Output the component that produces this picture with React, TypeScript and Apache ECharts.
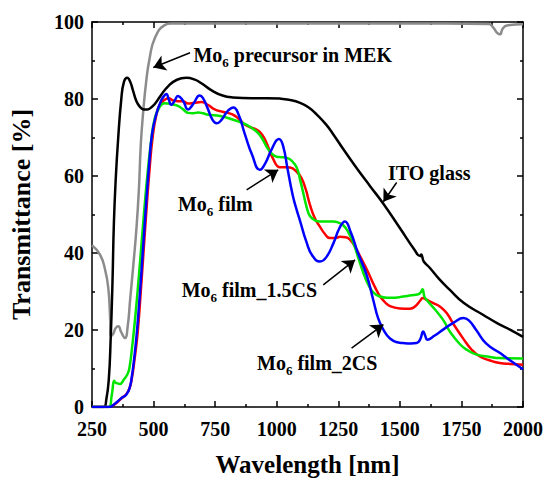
import React, { useEffect, useRef } from "react";
import * as echarts from "echarts";

const FONT = "'Liberation Serif', 'Times New Roman', serif";

// Wavelength [nm], Transmittance [%]
const precursorData: [number, number][] = [
  [250, 42], [283, 39.5], [303, 35.7], [316, 31], [323, 24], [327, 18.5], [336, 19], [346, 20.5],
  [357, 21], [368, 19.5], [384, 17.9], [395, 21], [405, 28], [418, 37], [430, 46], [440, 56],
  [448, 68], [457, 76], [470, 84.5], [484, 90.6], [505, 95.8], [545, 99.2], [572, 99.6],
  [1000, 99.6], [1500, 99.6], [1860, 99.5], [1880, 98.5], [1895, 97.2], [1906, 96.8],
  [1918, 98.3], [1935, 99.1], [2000, 99.4],
];

const itoData: [number, number][] = [
  [250, 0], [298, 0], [308, 1.9], [318, 7], [326, 18], [333, 32], [339, 48], [347, 60], [356, 69.5],
  [369, 80], [380, 84.5], [393, 85.5], [405, 84.5], [416, 82.3], [430, 79.5], [443, 78.1],
  [460, 77.3], [475, 77.3], [490, 77.8], [505, 78.7], [530, 81], [559, 83.3], [595, 85],
  [633, 85.5], [665, 85.1], [694, 84.1], [734, 82.3], [780, 80.9], [822, 80.4], [900, 80.2],
  [960, 80.2], [1013, 80.1], [1050, 79.8], [1095, 79.0], [1130, 77.8], [1162, 76.0],
  [1200, 73.4], [1230, 70.8], [1270, 67], [1325, 62], [1380, 57.3], [1433, 52.8],
  [1500, 46.5], [1560, 40.8], [1582, 39.2], [1587, 39.6], [1591, 39.0], [1597, 37.8],
  [1622, 36.1], [1660, 33.2], [1703, 30.4], [1760, 27], [1839, 23.9], [1900, 21.6],
  [1947, 20.1], [2000, 18.2],
];

const filmData: [number, number][] = [
  [250, 0], [318, 0], [340, 0.6], [369, 2.2], [389, 3.3], [402, 4.8], [412, 7.5], [422, 12],
  [435, 19], [447, 29], [460, 41], [472, 52], [484, 62], [496, 70], [510, 75.5], [525, 78.5],
  [545, 79.8], [560, 80.2], [580, 79.6], [600, 79.4], [620, 79.4], [640, 78.8], [665, 79],
  [694, 79.2], [720, 78.5], [748, 77.3], [780, 76.7], [820, 76], [850, 74.6], [870, 73.4],
  [895, 72.6], [919, 72], [940, 70.8], [959, 68.5], [986, 64.4], [1013, 62.3], [1035, 62.3],
  [1054, 62.2], [1081, 61.1], [1100, 59.5], [1118, 56.5], [1135, 52.5], [1155, 49],
  [1176, 46.8], [1195, 45], [1216, 43.9], [1240, 43.9], [1257, 44.2], [1280, 44.1],
  [1298, 43.4], [1320, 41.4], [1338, 39.2], [1360, 36.5], [1379, 33.9], [1400, 31],
  [1420, 28.7], [1440, 27.2], [1460, 26.2], [1500, 25.6], [1541, 25.5], [1565, 26.3],
  [1582, 27.6], [1593, 28.3], [1610, 27.8], [1636, 27], [1665, 26], [1690, 24.4],
  [1720, 21.3], [1758, 17.7], [1790, 15], [1825, 13.1], [1860, 12.2], [1906, 11.4],
  [1950, 11.2], [2000, 11],
];

const film15Data: [number, number][] = [
  [250, 0], [318, 0], [330, 3], [340, 6.8], [344, 6.4], [350, 6.2], [363, 6], [380, 7.2],
  [396, 8.8], [404, 11], [412, 15], [422, 21], [435, 30], [448, 40], [462, 51], [476, 61],
  [490, 69], [505, 75], [525, 78], [545, 78.9], [570, 78.7], [599, 78.2], [620, 77.3],
  [640, 76.4], [660, 76.3], [681, 76.5], [700, 76.3], [722, 75.9], [770, 75.6], [824, 74.6],
  [878, 73.3], [919, 71.5], [940, 69.8], [959, 67.6], [980, 65.8], [1000, 65], [1020, 64.9],
  [1040, 64.7], [1060, 64], [1081, 62.2], [1095, 59], [1108, 55.5], [1122, 51.8],
  [1135, 49.6], [1155, 48.5], [1176, 48.2], [1200, 48.2], [1230, 48.2], [1250, 47.9],
  [1270, 47.2], [1290, 45.5], [1311, 42.6], [1330, 39], [1352, 34.8], [1370, 32],
  [1392, 29.8], [1420, 28.7], [1447, 28.4], [1480, 28.4], [1514, 28.7], [1545, 29],
  [1575, 29.3], [1585, 29.8], [1592, 30.6], [1600, 28.6], [1609, 27.8], [1640, 25.5],
  [1677, 22.5], [1703, 19.6], [1744, 16.3], [1771, 14.9], [1812, 13.6], [1866, 13],
  [1906, 12.7], [2000, 12.6],
];

const film2Data: [number, number][] = [
  [250, 0], [320, 0], [345, 1], [369, 2.3], [389, 3.2], [403, 5], [412, 8], [422, 13],
  [433, 20], [445, 30], [457, 41], [470, 53], [482, 63], [494, 71], [511, 76], [530, 79.5],
  [545, 81], [552, 81.3], [562, 79.8], [572, 78.5], [585, 79.5], [599, 80.8], [620, 79.5],
  [640, 77.3], [662, 78.8], [687, 80.9], [700, 80.3], [720, 77.5], [740, 74.5], [756, 73.7],
  [775, 74.5], [800, 76.8], [824, 77.8], [845, 76], [870, 71], [900, 65.5], [932, 61.6],
  [955, 63.5], [980, 67], [1009, 69.6], [1025, 68], [1045, 61.5], [1065, 55], [1081, 51.2],
  [1095, 48.3], [1120, 43], [1145, 39.3], [1176, 37.8], [1200, 38.8], [1230, 42.5],
  [1255, 46.5], [1277, 48.2], [1300, 45.5], [1330, 40], [1365, 34.3], [1392, 27.8],
  [1412, 23], [1433, 20.1], [1460, 17.8], [1490, 16.8], [1514, 16.6], [1545, 16.5],
  [1568, 16.6], [1582, 17.5], [1595, 19.6], [1603, 18.5], [1611, 17.5], [1640, 18.5],
  [1680, 20.3], [1720, 22], [1758, 23.1], [1780, 22.5], [1810, 20], [1850, 16.5],
  [1907, 14], [1950, 12], [2000, 9.8],
];

// Annotation labels: [main, subscript, rest], anchor (left-middle) in data coords
const labelTexts = [
  ["Mo", "6", " precursor in MEK"],
  ["ITO glass", "", ""],
  ["Mo", "6", " film"],
  ["Mo", "6", " film_1.5CS"],
  ["Mo", "6", " film_2CS"],
];
const labelAnchors: [number, number][] = [
  [662, 91.4],
  [1452, 60.8],
  [599, 52.8],
  [614, 30.3],
  [920, 11.3],
];
// Arrows: from -> to (tip) in data coords
const arrowLines: [[number, number], [number, number]][] = [
  [[648, 92.0], [499, 88.2]],
  [[1487, 58.3], [1433, 53.3]],
  [[878, 56.4], [1006, 61.6]],
  [[1189, 31.7], [1318, 38.2]],
  [[1304, 15.3], [1433, 21.4]],
];

const seriesColors = ["#8c8c8c", "#000000", "#ff0000", "#00e600", "#0000ff"];

export default function App() {
  const ref = useRef<HTMLDivElement>(null);

  useEffect(() => {
    document.body.style.margin = "0";
    if (!ref.current) return;
    const chart = echarts.init(ref.current, undefined, { renderer: "svg" });

    const axisCommon = {
      axisLine: { show: true, onZero: false, lineStyle: { color: "#000", width: 1.5 } },
      axisTick: { show: true, inside: true, length: 6, lineStyle: { color: "#000", width: 1.5 } },
      minorTick: { show: true, splitNumber: 2, length: 3, lineStyle: { color: "#000", width: 1.5 } },
      splitLine: { show: false },
    };

    const mkSeries = (name: string, data: [number, number][], color: string) => ({
      name,
      type: "line",
      data,
      showSymbol: false,
      symbol: "none",
      smooth: 0.5,
      lineStyle: { color, width: 2.5 },
      silent: true,
      z: 3,
    });

    const labelStyle = {
      color: "#000",
      fontFamily: FONT,
      fontWeight: "bold",
      fontSize: 20,
      formatter: (v: number) => String(v),
    };

    const option: any = {
      animation: false,
      backgroundColor: "#fff",
      grid: { left: 92, right: 23, top: 22, bottom: 77, containLabel: false },
      xAxis: [
        {
          type: "value",
          min: 250,
          max: 2000,
          interval: 250,
          position: "bottom",
          ...axisCommon,
          axisLabel: { ...labelStyle, margin: 12 },
          name: "Wavelength [nm]",
          nameLocation: "middle",
          nameGap: 45,
          nameTextStyle: { color: "#000", fontFamily: FONT, fontWeight: "bold", fontSize: 25 },
        },
        {
          type: "value",
          min: 250,
          max: 2000,
          interval: 250,
          position: "top",
          ...axisCommon,
          axisLabel: { show: false },
        },
      ],
      yAxis: [
        {
          type: "value",
          min: 0,
          max: 100,
          interval: 20,
          position: "left",
          ...axisCommon,
          axisLabel: { ...labelStyle, margin: 8 },
          name: "Transmittance [%]",
          nameLocation: "middle",
          nameGap: 58,
          nameTextStyle: { color: "#000", fontFamily: FONT, fontWeight: "bold", fontSize: 26 },
        },
        {
          type: "value",
          min: 0,
          max: 100,
          interval: 20,
          position: "right",
          ...axisCommon,
          axisLabel: { show: false },
        },
      ],
      series: [
        mkSeries("Mo6 precursor in MEK", precursorData, seriesColors[0]),
        mkSeries("ITO glass", itoData, seriesColors[1]),
        mkSeries("Mo6 film", filmData, seriesColors[2]),
        mkSeries("Mo6 film_1.5CS", film15Data, seriesColors[3]),
        mkSeries("Mo6 film_2CS", film2Data, seriesColors[4]),
        {
          name: "arrows",
          type: "line",
          data: [],
          silent: true,
          z: 5,
          markLine: {
            silent: true,
            symbol: ["none", "arrow"],
            symbolSize: 12,
            label: { show: false },
            lineStyle: { color: "#000", width: 1.5, type: "solid" },
            itemStyle: { color: "#000" },
            emphasis: { disabled: true },
            data: arrowLines.map(([a, b]) => [{ coord: a }, { coord: b }]),
          },
        },
      ],
    };

    chart.setOption(option);

    const rich = {
      m: { fontFamily: FONT, fontWeight: "bold", fontSize: 20, lineHeight: 28, verticalAlign: "middle", fill: "#000", color: "#000" },
      s: { fontFamily: FONT, fontWeight: "bold", fontSize: 13, lineHeight: 10, verticalAlign: "bottom", fill: "#000", color: "#000" },
    };

    const graphics = labelTexts.map((t, i) => {
      const p = chart.convertToPixel({ xAxisIndex: 0, yAxisIndex: 0 }, labelAnchors[i]) as number[];
      let text = `{m|${t[0]}}`;
      if (t[1]) text += `{s|${t[1]}}`;
      if (t[2]) text += `{m|${t[2]}}`;
      return {
        type: "text",
        x: p[0],
        y: p[1],
        silent: true,
        z: 10,
        style: {
          text,
          rich,
          align: "left",
          verticalAlign: "middle",
          fill: "#000",
        },
      };
    });
    chart.setOption({ graphic: graphics });

    return () => chart.dispose();
  }, []);

  return (
    <div
      ref={ref}
      style={{ position: "fixed", left: 0, top: 0, width: 546, height: 484, background: "#fff" }}
    />
  );
}
